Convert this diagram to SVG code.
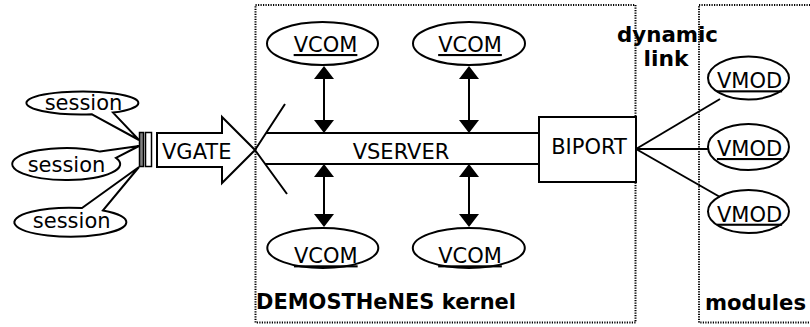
<svg xmlns="http://www.w3.org/2000/svg" width="810" height="327" viewBox="0 0 810 327">
<style>
  .reg { font-family: "DejaVu Sans", Verdana, sans-serif; font-size: 21px; fill: #000; }
  .bold { font-family: "DejaVu Sans", Verdana, sans-serif; font-size: 21px; font-weight: bold; fill: #000; }
  .ul { text-decoration: underline; text-decoration-thickness: 2px; text-underline-offset: 4px; }
  .shape { fill: #fff; stroke: #000; stroke-width: 2; }
  .line { fill: none; stroke: #000; stroke-width: 2; }
  .dotbox { fill: none; stroke: #000; stroke-width: 2; stroke-dasharray: 1.2 1.3; }
</style>
<defs>
  <marker id="ah" viewBox="0 0 13 20" refX="11" refY="10" markerWidth="13" markerHeight="20" markerUnits="userSpaceOnUse" orient="auto-start-reverse">
    <path d="M0,0 L13,10 L0,20 Z" fill="#000"/>
  </marker>
</defs>
<rect width="810" height="327" fill="#fff"/>

<g id="kernel-area">
  <rect class="dotbox" x="255.5" y="5" width="380" height="317.5"/>
  <text class="bold" x="256" y="308.5" textLength="260" lengthAdjust="spacingAndGlyphs">DEMOSTHeNES kernel</text>
</g>
<g id="modules-area">
  <rect class="dotbox" x="699" y="5" width="120" height="317.5"/>
  <text class="bold" x="705" y="310" textLength="101" lengthAdjust="spacingAndGlyphs">modules</text>
</g>
<g id="dynamic-link-label">
  <text class="bold" x="617" y="41.7" textLength="101" lengthAdjust="spacingAndGlyphs">dynamic</text>
  <text class="bold" x="643.5" y="65.5" textLength="45" lengthAdjust="spacingAndGlyphs">link</text>
</g>

<g id="session1">
  <path class="shape" d="M92,114.3 L139,140 L113,112.6 A56 11.5 0 1 0 92,114.3 Z"/>
  <text class="reg" x="83.5" y="110" text-anchor="middle">session</text>
</g>
<g id="session2">
  <path class="shape" d="M100,151.6 L139,146 L116,157.9 A54 16 0 1 1 100,151.6 Z"/>
  <text class="reg" x="66.5" y="171.7" text-anchor="middle">session</text>
</g>
<g id="session3">
  <path class="shape" d="M82,208 L139,167 L103,210.4 A56 14.5 0 1 1 82,208 Z"/>
  <text class="reg" x="71.7" y="228.3" text-anchor="middle">session</text>
</g>

<g id="vgate">
  <rect x="139.5" y="132.5" width="4" height="34" fill="#808080" stroke="#000" stroke-width="1.5"/>
  <rect x="145.5" y="132.5" width="6" height="34" fill="#fff" stroke="#000" stroke-width="1.5"/>
  <polygon class="shape" points="157,133 222,133 222,117 255,150 222,183 222,167 157,167"/>
  <text class="reg" x="162" y="159">VGATE</text>
</g>

<g id="vserver">
  <polyline class="line" points="285,104 255,150 287,194"/>
  <line class="line" x1="266" y1="133" x2="539" y2="133"/>
  <line class="line" x1="265" y1="164" x2="539" y2="164"/>
  <text class="reg" x="401" y="159" text-anchor="middle">VSERVER</text>
</g>

<g id="biport">
  <rect class="shape" x="539" y="117" width="97" height="65"/>
  <text class="reg" x="589" y="154" text-anchor="middle">BIPORT</text>
</g>

<g id="vcom1">
  <ellipse class="shape" cx="322.5" cy="43.5" rx="55.5" ry="21.5"/>
  <text class="reg ul" x="325.5" y="52" text-anchor="middle">VCOM</text>
</g>
<g id="vcom2">
  <ellipse class="shape" cx="469" cy="43.5" rx="56" ry="21.5"/>
  <text class="reg ul" x="470" y="52" text-anchor="middle">VCOM</text>
</g>
<g id="vcom3">
  <ellipse class="shape" cx="322.8" cy="248" rx="55.5" ry="20"/>
  <text class="reg ul" x="325.8" y="263.3" text-anchor="middle">VCOM</text>
</g>
<g id="vcom4">
  <ellipse class="shape" cx="468.8" cy="248" rx="56" ry="20"/>
  <text class="reg ul" x="470" y="263.3" text-anchor="middle">VCOM</text>
</g>

<g id="vmod1">
  <ellipse class="shape" cx="748.5" cy="78" rx="40.5" ry="21.5"/>
  <text class="reg ul" x="749.5" y="88.3" text-anchor="middle">VMOD</text>
</g>
<g id="vmod2">
  <ellipse class="shape" cx="748.5" cy="147" rx="40.5" ry="23"/>
  <text class="reg ul" x="749.5" y="156" text-anchor="middle">VMOD</text>
</g>
<g id="vmod3">
  <ellipse class="shape" cx="748.5" cy="211.5" rx="40.5" ry="21.5"/>
  <text class="reg ul" x="749.5" y="221.7" text-anchor="middle">VMOD</text>
</g>

<g id="connectors">
  <line class="line" x1="324" y1="68" x2="324" y2="131" marker-start="url(#ah)" marker-end="url(#ah)"/>
  <line class="line" x1="469" y1="68" x2="469" y2="131" marker-start="url(#ah)" marker-end="url(#ah)"/>
  <line class="line" x1="324" y1="166" x2="324" y2="225" marker-start="url(#ah)" marker-end="url(#ah)"/>
  <line class="line" x1="469" y1="166" x2="469" y2="225" marker-start="url(#ah)" marker-end="url(#ah)"/>
  <line class="line" x1="636" y1="149" x2="720" y2="99"/>
  <line class="line" x1="636" y1="149" x2="708" y2="149"/>
  <line class="line" x1="636" y1="149" x2="720" y2="197"/>
</g>
</svg>
